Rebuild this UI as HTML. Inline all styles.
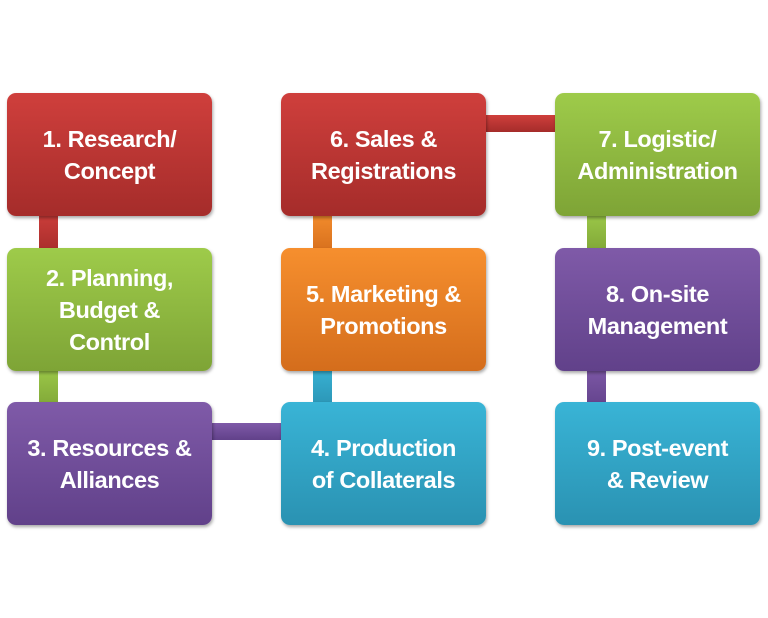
<!DOCTYPE html>
<html><head><style>
body{margin:0;width:768px;height:618px;background:#fff;position:relative;overflow:hidden;font-family:"Liberation Sans",sans-serif}
.b{position:absolute;width:205px;height:123px;border-radius:9px;color:#fff;font-weight:bold;font-size:23.5px;line-height:32px;display:flex;align-items:center;justify-content:center;text-align:center;box-shadow:1px 2px 3px rgba(0,0,0,.35);letter-spacing:-0.4px}
.c{position:absolute}
.r{background:linear-gradient(#cf3f3c,#a52c2a)}
.g{background:linear-gradient(#9ecb4a,#7ea436)}
.p{background:linear-gradient(#7f5aa8,#61418a)}
.t{background:linear-gradient(#39b4d6,#2a92b2)}
.o{background:linear-gradient(#f68f2e,#d46d1c)}
</style></head><body>
<div class="c r" style="left:39px;top:210px;width:19px;height:45px"></div>
<div class="c g" style="left:39px;top:365px;width:19px;height:45px"></div>
<div class="c p" style="left:205px;top:423px;width:83px;height:17px"></div>
<div class="c t" style="left:313px;top:365px;width:19px;height:45px"></div>
<div class="c o" style="left:313px;top:210px;width:19px;height:45px"></div>
<div class="c r" style="left:480px;top:115px;width:83px;height:17px"></div>
<div class="c g" style="left:587px;top:210px;width:19px;height:45px"></div>
<div class="c p" style="left:587px;top:365px;width:19px;height:45px"></div>

<div class="b r" style="left:7px;top:93px">1. Research/<br>Concept</div>
<div class="b g" style="left:7px;top:248px">2. Planning,<br>Budget &amp;<br>Control</div>
<div class="b p" style="left:7px;top:402px">3. Resources &amp;<br>Alliances</div>
<div class="b t" style="left:281px;top:402px">4. Production<br>of Collaterals</div>
<div class="b o" style="left:281px;top:248px">5. Marketing &amp;<br>Promotions</div>
<div class="b r" style="left:281px;top:93px">6. Sales &amp;<br>Registrations</div>
<div class="b g" style="left:555px;top:93px">7. Logistic/<br>Administration</div>
<div class="b p" style="left:555px;top:248px">8. On-site<br>Management</div>
<div class="b t" style="left:555px;top:402px">9. Post-event<br>&amp; Review</div>
</body></html>
